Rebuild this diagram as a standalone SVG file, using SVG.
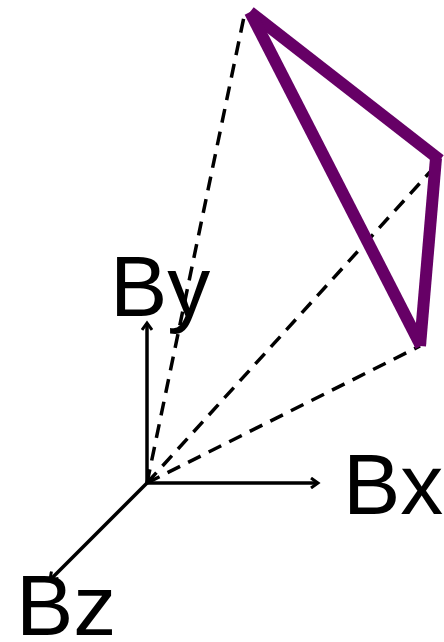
<svg xmlns="http://www.w3.org/2000/svg" width="444" height="642" viewBox="0 0 444 642">
<style>
.axis{stroke:#000;stroke-width:3.5;fill:none;marker-end:url(#ah)}
.dash{stroke:#000;stroke-width:3.5;stroke-dasharray:14,9;fill:none}
.tri{stroke:#660066;stroke-width:12;fill:none;stroke-linecap:butt}
text{font-family:"Liberation Sans",Arial,sans-serif;font-size:86px;fill:#000}
</style>
<defs>
<marker id="ah" markerWidth="12" markerHeight="12" refX="9" refY="6" orient="auto" markerUnits="userSpaceOnUse">
<path d="M2,1 L9,6 L2,11" fill="none" stroke="#000" stroke-width="3"/>
</marker>
</defs>
<g id="connectors">
<line class="axis" x1="147" y1="483" x2="318" y2="483"/>
<line class="axis" x1="147" y1="483" x2="147" y2="323"/>
<line class="axis" x1="147" y1="483" x2="50" y2="580"/>
<line class="dash" x1="147" y1="483" x2="245" y2="12"/>
<line class="dash" x1="147" y1="483" x2="430" y2="172"/>
<line class="dash" x1="147" y1="483" x2="420" y2="346"/>
</g>
<g id="triangle">
<line class="tri" x1="250" y1="12" x2="440" y2="160"/>
<line class="tri" x1="436" y1="158" x2="420" y2="346"/>
<line class="tri" x1="421" y1="346" x2="250" y2="12"/>
</g>
<g id="By"><text x="110" y="316">By</text></g>
<g id="Bx"><text x="343" y="514">Bx</text></g>
<g id="Bz"><text x="16" y="635">Bz</text></g>
</svg>
